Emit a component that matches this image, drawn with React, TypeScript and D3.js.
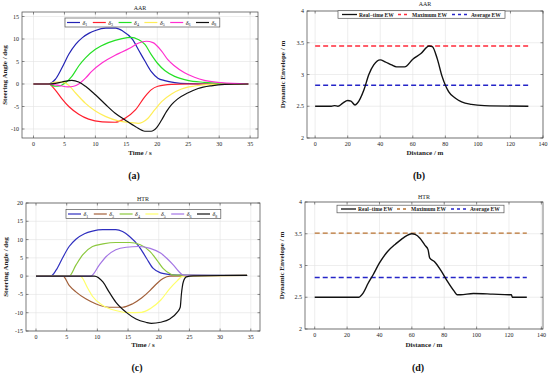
import React from 'react';
import * as d3 from 'd3';

// ---- data ----
type Pt = [number, number];

// AAR steering angles (time s, deg)
const aarD1: Pt[] = [[0, 0], [2.4, 0], [3.5, 1], [4.6, 3.6], [5.7, 6.6], [6.8, 8.8], [7.9, 10.3], [9, 11.3], [10, 11.9], [11.7, 12.4], [13.3, 12.4], [14.4, 11.8], [16, 9.9], [17, 7.5], [18, 5.1], [19, 2.8], [20.1, 1.3], [21.2, 0.75], [22.8, 0.3], [24.9, 0.07], [28, 0], [34.7, 0]];
const aarD3: Pt[] = [[0, 0], [2.45, 0], [3.5, -1.3], [4.6, -3.3], [5.7, -5], [7.3, -6.7], [8.9, -7.8], [11.1, -8.4], [13.2, -8.5], [14.8, -7.6], [16.5, -5.7], [18, -2.8], [19, -1.3], [20.1, -0.5], [22.3, -0.1], [25, 0], [34.7, 0]];
const aarD4: Pt[] = [[0, 0], [2.4, 0], [3.5, -0.5], [4.2, -0.45], [5.1, 0.2], [6.2, 1.7], [7.3, 4], [8.4, 5.8], [10, 7.7], [12.1, 9.2], [14.3, 10.1], [15.8, 10.35], [16.9, 9.9], [18, 8.8], [19, 6.6], [20.1, 4.5], [21.2, 3], [22.8, 1.7], [24.9, 0.8], [27.6, 0.37], [30, 0.15], [34.7, 0]];
const aarD5: Pt[] = [[0, 0], [2.4, 0], [3.5, 0.4], [4.6, 0.4], [5.7, -0.3], [6.8, -2], [8.4, -4.3], [10, -6], [11.6, -7.2], [13.7, -8.2], [15.9, -8.6], [16.9, -8.75], [17.6, -8.5], [18.5, -7.6], [19.6, -5.7], [20.7, -3.9], [22.3, -2.2], [23.9, -1.1], [26, -0.45], [28.7, -0.07], [34.7, 0]];
const aarD6: Pt[] = [[0, 0], [2.4, 0], [4, -0.3], [5.6, -0.65], [6.5, -0.5], [7.3, 0], [8.4, 1.3], [9.4, 2.8], [11.1, 4.7], [13.2, 6.4], [14.3, 7.1], [15.6, 8], [17, 9.1], [18.2, 9.5], [19.3, 9.2], [20.7, 7.3], [21.7, 5.4], [22.8, 4], [24.4, 2.5], [26, 1.5], [27.6, 0.8], [30.3, 0.3], [34.7, 0]];
const aarD8: Pt[] = [[0, 0], [2.4, 0], [3.5, 0.15], [4.6, 0.45], [6.2, 0.8], [7.3, 0.45], [8.4, -0.5], [10, -2.4], [11.6, -4.5], [13.2, -6.5], [14.8, -8], [16.5, -9.5], [18, -10.5], [19, -10.5], [19.9, -9.7], [20.7, -8], [21.5, -6.1], [22.3, -4.6], [23.3, -3.3], [24.9, -2], [26.6, -1], [28.7, -0.4], [30.9, -0.1], [34.7, 0]];

// HTR steering angles (time s, deg)
const htrD1: Pt[] = [[0, 0], [2.4, 0], [3.3, 1.7], [4.3, 4.9], [5.4, 8.1], [6.5, 10.1], [7.9, 11.6], [9.2, 12.3], [10.9, 12.7], [13, 12.7], [14.1, 12.2], [15.2, 10.9], [16.8, 8.1], [18, 4.9], [19.1, 2.1], [20.3, 0.9], [21.3, 0.55], [23, 0.3], [34.4, 0.2]];
const htrD3: Pt[] = [[0, 0], [4.4, 0], [5.4, -2.5], [6.5, -4.3], [8.1, -6.2], [9.8, -7.6], [11.9, -8.5], [14.1, -8.5], [15.7, -7.6], [17.2, -6], [18.6, -3.9], [19.7, -2], [20.7, -0.65], [21.8, 0], [34.4, 0.2]];
const htrD4: Pt[] = [[0, 0], [5.4, 0], [6.5, 3], [7.6, 5.8], [9.2, 8.1], [10.9, 8.8], [13, 9.2], [15.2, 9.2], [17, 8.6], [18.6, 6.7], [19.7, 4.4], [20.7, 2.1], [21.8, 0.7], [22.4, 0.3], [34.4, 0.2]];
const htrD5: Pt[] = [[0, 0], [7.2, 0], [8.5, -3.5], [9.2, -5.5], [10.9, -8], [13, -9.4], [15.2, -10], [17.2, -9.9], [18.6, -8.9], [20.3, -6.6], [21.8, -3.4], [23, -1.3], [23.7, -0.2], [24.5, 0.1], [34.4, 0.2]];
const htrD6: Pt[] = [[0, 0], [8.9, 0], [10.3, 3], [11.4, 5.3], [13, 7.2], [14.7, 7.9], [16.8, 8.1], [18.6, 7.6], [20.3, 6.3], [21.3, 4.9], [22.4, 3], [23.2, 1.4], [24, 0.3], [34.4, 0.2]];
const htrD8: Pt[] = [[0, 0], [9.5, 0], [10.9, -1.6], [11.9, -4.3], [13, -7.1], [14.7, -9.9], [16.3, -11.7], [17.9, -12.6], [18.8, -12.9], [20.3, -12.6], [21.8, -11.7], [23, -9.9], [23.5, -8.5], [23.7, -4.8], [24, -1.6], [24.5, -0.2], [25.6, 0.1], [34.4, 0.2]];

// dynamic envelope width (distance m, width m)
const aarEW: Pt[] = [[0, 2.5], [10, 2.5], [12, 2.51], [14, 2.5], [17, 2.55], [20, 2.59], [22, 2.58], [24.5, 2.52], [26, 2.55], [30, 2.76], [33, 3.0], [36, 3.15], [40, 3.23], [43, 3.2], [47, 3.15], [50, 3.12], [55, 3.12], [60, 3.24], [65, 3.33], [70, 3.45], [72, 3.44], [75, 3.25], [78, 2.97], [82, 2.73], [86, 2.63], [90, 2.57], [96, 2.53], [104, 2.51], [131, 2.5]];
const htrEW: Pt[] = [[0, 2.5], [27, 2.5], [30, 2.57], [33, 2.72], [36, 2.85], [40, 3.04], [45, 3.22], [50, 3.34], [55, 3.44], [60, 3.5], [62, 3.49], [65, 3.43], [68, 3.32], [70, 3.25], [71, 3.12], [74, 3.06], [78, 2.92], [82, 2.75], [86, 2.6], [88, 2.54], [90, 2.54], [98, 2.56], [110, 2.55], [120, 2.54], [121.5, 2.54], [122, 2.5], [131, 2.5]];

const aarMax = 3.45, aarAvg = 2.83;
const htrMax = 3.51, htrAvg = 2.81;

const deltaSubs = ['1', '3', '4', '5', '6', '8'];
const aarColors = ['#2323b4', '#ff1f2e', '#25e025', '#ffee58', '#ff2fcf', '#111111'];
const htrColors = ['#2f2fbf', '#a2603a', '#8cc83e', '#ffff6a', '#a476e4', '#111111'];

const timeTicks = [0, 5, 10, 15, 20, 25, 30, 35];
const aarAngleTicks = [-10, -5, 0, 5, 10, 15];
const htrAngleTicks = [-15, -10, -5, 0, 5, 10, 15, 20];
const distTicks = [0, 20, 40, 60, 80, 100, 120, 140];
const ewTicks = [2, 2.5, 3, 3.5, 4];

const FONT = '"Liberation Serif", "Times New Roman", serif';

interface Series { pts: Pt[]; color: string; width: number; dash?: string }
interface PanelProps {
  box: [number, number, number, number]; // x0, y0, x1, y1
  xDomain: [number, number];
  yDomain: [number, number];
  xTicks: number[];
  yTicks: number[];
  series: Series[];
  title: string;
  titleY: number;
  xLabel: string;
  yLabel: string;
  xLabelY: number;
  yLabelX: number;
  tag: string;
  tagY: number;
  legend: React.ReactNode;
}

const Panel = (p: PanelProps) => {
  const [x0, y0, x1, y1] = p.box;
  const x = d3.scaleLinear().domain(p.xDomain).range([x0, x1]);
  const y = d3.scaleLinear().domain(p.yDomain).range([y1, y0]);
  const line = d3.line<Pt>().x(d => x(d[0])).y(d => y(d[1])).curve(d3.curveMonotoneX);
  const cx = (x0 + x1) / 2;
  const tl = 2.5;
  return (
    <g fontFamily={FONT}>
      {p.xTicks.map(t => (
        <line key={'gx' + t} x1={x(t)} x2={x(t)} y1={y0} y2={y1} stroke="#e3e3e3" strokeWidth={0.6} />
      ))}
      {p.yTicks.map(t => (
        <line key={'gy' + t} x1={x0} x2={x1} y1={y(t)} y2={y(t)} stroke="#e3e3e3" strokeWidth={0.6} />
      ))}
      {p.series.map((s, i) => (
        <path key={i} d={line(s.pts) || ''} fill="none" stroke={s.color} strokeWidth={s.width}
          strokeDasharray={s.dash} strokeLinejoin="round" />
      ))}
      <rect x={x0} y={y0} width={x1 - x0} height={y1 - y0} fill="none" stroke="#444" strokeWidth={0.7} />
      {p.xTicks.map(t => (
        <g key={'tx' + t}>
          <line x1={x(t)} x2={x(t)} y1={y1} y2={y1 - tl} stroke="#444" strokeWidth={0.6} />
          <line x1={x(t)} x2={x(t)} y1={y0} y2={y0 + tl} stroke="#444" strokeWidth={0.6} />
          <text x={x(t)} y={y1 + 8} fontSize={6} textAnchor="middle" fill="#222">{t}</text>
        </g>
      ))}
      {p.yTicks.map(t => (
        <g key={'ty' + t}>
          <line x1={x0} x2={x0 + tl} y1={y(t)} y2={y(t)} stroke="#444" strokeWidth={0.6} />
          <line x1={x1} x2={x1 - tl} y1={y(t)} y2={y(t)} stroke="#444" strokeWidth={0.6} />
          <text x={x0 - 3} y={y(t) + 2} fontSize={6} textAnchor="end" fill="#222">{t}</text>
        </g>
      ))}
      <text x={cx} y={p.titleY} fontSize={6} textAnchor="middle" fill="#222">{p.title}</text>
      <text x={cx} y={p.xLabelY} fontSize={7} fontWeight="bold" textAnchor="middle" fill="#222">{p.xLabel}</text>
      <text transform={`translate(${p.yLabelX},${(y0 + y1) / 2}) rotate(-90)`} fontSize={7} fontWeight="bold"
        textAnchor="middle" fill="#222">{p.yLabel}</text>
      <text x={cx - 6} y={p.tagY} fontSize={10} fontWeight="bold" textAnchor="middle" fill="#111">{p.tag}</text>
      {p.legend}
    </g>
  );
};

const DeltaLegend = ({ x0, yc, colors }: { x0: number; yc: number; colors: string[] }) => {
  const step = 25.8;
  return (
    <g fontFamily={FONT}>
      <rect x={x0} y={yc - 4.5} width={step * 6} height={9} fill="#fff" stroke="#555" strokeWidth={0.7} />
      {deltaSubs.map((s, i) => (
        <g key={s}>
          <line x1={x0 + 2 + i * step} x2={x0 + 15 + i * step} y1={yc} y2={yc} stroke={colors[i]} strokeWidth={1.2} />
          <text x={x0 + 17.5 + i * step} y={yc + 2} fontSize={6} fontStyle="italic" fill="#222">
            δ<tspan fontSize={4} dy={1.5} fontStyle="normal">{s}</tspan>
          </text>
        </g>
      ))}
    </g>
  );
};

const EWLegend = ({ x0, yc, maxColor }: { x0: number; yc: number; maxColor: string }) => {
  const items = [
    { label: 'Real−time EW', color: '#111', dash: undefined as string | undefined, l0: 4, l1: 19, tx: 21 },
    { label: 'Maximum EW', color: maxColor, dash: '3,3', l0: 60, l1: 71, tx: 74 },
    { label: 'Average EW', color: '#2525c8', dash: '3,3', l0: 114, l1: 131, tx: 133 },
  ];
  return (
    <g fontFamily={FONT}>
      <rect x={x0} y={yc - 3.8} width={167} height={7.6} fill="#fff" stroke="#555" strokeWidth={0.7} />
      {items.map(it => (
        <g key={it.label}>
          <line x1={x0 + it.l0} x2={x0 + it.l1} y1={yc} y2={yc} stroke={it.color} strokeWidth={1.3}
            strokeDasharray={it.dash} />
          <text x={x0 + it.tx} y={yc + 2} fontSize={5.5} fontWeight="bold" fill="#222">{it.label}</text>
        </g>
      ))}
    </g>
  );
};

const flat = (v: number): Pt[] => [[0, v], [131, v]];

const App = () => {
  const aarSeries = [aarD1, aarD3, aarD4, aarD5, aarD6, aarD8].map((pts, i) => ({ pts, color: aarColors[i], width: 1.2 }));
  const htrSeries = [htrD1, htrD3, htrD4, htrD5, htrD6, htrD8].map((pts, i) => ({ pts, color: htrColors[i], width: 1.2 }));
  return (
    <div style={{ position: 'absolute', left: 0, top: 0 }}>
      <svg width={550} height={375} style={{ display: 'block', background: '#fff' }}>
        <Panel box={[22, 12, 258, 138]} xDomain={[-1.86, 36.27]} yDomain={[-12, 16]} xTicks={timeTicks} yTicks={aarAngleTicks}
          series={aarSeries} title="AAR" titleY={9.5} xLabel="Time / s" yLabel="Steering Angle / deg" xLabelY={155}
          yLabelX={7} tag="(a)" tagY={179} legend={<DeltaLegend x0={65} yc={22.5} colors={aarColors} />} />
        <Panel box={[307, 11, 543, 138]} xDomain={[-5, 140]} yDomain={[2, 4]} xTicks={distTicks} yTicks={ewTicks}
          series={[
            { pts: flat(aarMax), color: '#ff2a3a', width: 1.4, dash: '5,3' },
            { pts: flat(aarAvg), color: '#2525c8', width: 1.4, dash: '5,3' },
            { pts: aarEW, color: '#111', width: 1.4 },
          ]}
          title="AAR" titleY={6} xLabel="Distance / m" yLabel="Dynamic Envelope / m" xLabelY={155} yLabelX={285}
          tag="(b)" tagY={179} legend={<EWLegend x0={338} yc={14.5} maxColor="#ff2a3a" />} />
        <Panel box={[26, 203, 260, 331]} xDomain={[-1.63, 36.5]} yDomain={[-15, 20]} xTicks={timeTicks} yTicks={htrAngleTicks}
          series={htrSeries} title="HTR" titleY={201} xLabel="Time / s" yLabel="Steering Angle / deg" xLabelY={347}
          yLabelX={8} tag="(c)" tagY={371} legend={<DeltaLegend x0={66} yc={214} colors={htrColors} />} />
        <Panel box={[305, 202, 543, 329]} xDomain={[-6, 141]} yDomain={[2, 4]} xTicks={distTicks} yTicks={ewTicks}
          series={[
            { pts: flat(htrMax), color: '#b8712f', width: 1.2, dash: '5,3' },
            { pts: flat(htrAvg), color: '#2525c8', width: 1.4, dash: '5,3' },
            { pts: htrEW, color: '#111', width: 1.4 },
          ]}
          title="HTR" titleY={199} xLabel="Distance / m" yLabel="Dynamic Envelope / m" xLabelY={347} yLabelX={284}
          tag="(d)" tagY={371} legend={<EWLegend x0={337} yc={209} maxColor="#b8712f" />} />
      </svg>
    </div>
  );
};

export default App;
